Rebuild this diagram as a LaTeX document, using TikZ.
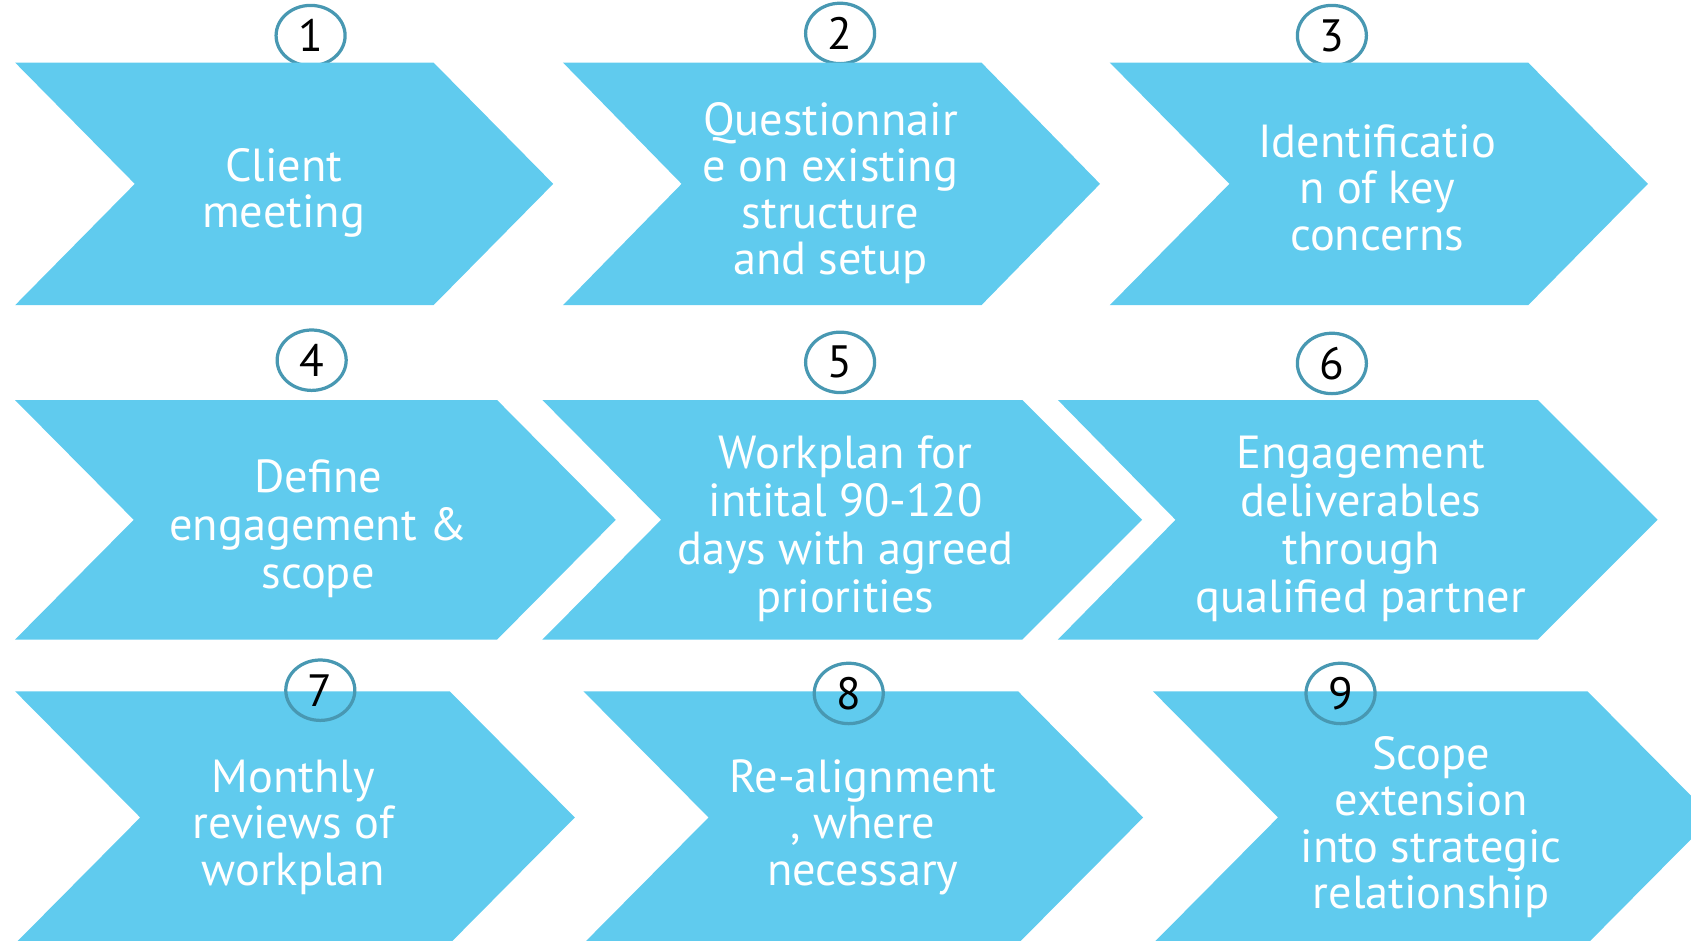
\documentclass[tikz,border=0pt]{standalone}
\usepackage{fontspec}
\setmainfont{PT Sans}
\usetikzlibrary{shapes.geometric}

\definecolor{chevblue}{RGB}{96,203,238}
\definecolor{ringblue}{RGB}{72,152,178}

\tikzset{
    chev/.style={fill=chevblue},
    lbl/.style={text=white, align=center, inner sep=0pt, font=\fontsize{43}{43}\selectfont},
    lblwide/.style={lbl, font=\fontsize{43}{44.5}\selectfont},
    num/.style={ellipse, draw=ringblue, line width=3pt, minimum width=64pt, minimum height=56pt, inner sep=0pt, font=\fontsize{42}{42}\selectfont}
}

\begin{document}
\begin{tikzpicture}[x=1pt, y=-1pt]
    \useasboundingbox (0,0) rectangle (1568,872);
    \clip (0,0) rectangle (1568,872);
    % numbers of the first row sit behind the chevrons
    \node[num] (n1) at (288,33) {1};
    \node[num] (n2) at (779,31) {2};
    \node[num] (n3) at (1235,33) {3};

    % row 1
    \fill[chev] (14,58) -- (402,58) -- (513,170.5) -- (402,283) -- (14,283) -- (125,170.5) -- cycle;
    \fill[chev] (522,58) -- (910,58) -- (1020,170.5) -- (910,283) -- (522,283) -- (632,170.5) -- cycle;
    \fill[chev] (1029,58) -- (1417,58) -- (1528,170.5) -- (1417,283) -- (1029,283) -- (1140,170.5) -- cycle;
    % row 2
    \fill[chev] (14,371) -- (461,371) -- (571,482) -- (461,593) -- (14,593) -- (124,482) -- cycle;
    \fill[chev] (503,371) -- (948,371) -- (1059,482) -- (948,593) -- (503,593) -- (613,482) -- cycle;
    \fill[chev] (981,371) -- (1426,371) -- (1537,482) -- (1426,593) -- (981,593) -- (1090,482) -- cycle;
    % row 3
    \fill[chev] (14,641) -- (417,641) -- (533,758) -- (417,875) -- (14,875) -- (130,758) -- cycle;
    \fill[chev] (541,641) -- (944,641) -- (1060,758) -- (944,875) -- (541,875) -- (657,758) -- cycle;
    \fill[chev] (1069,641) -- (1472,641) -- (1588,758) -- (1472,875) -- (1069,875) -- (1185,758) -- cycle;

    \node[lbl] (c1) at (263,179) {Client\\meeting};
    \node[lbl] (c2) at (770,179) {Questionnair\\e on existing\\structure\\and setup};
    \node[lbl] (c3) at (1277,174) {Identificatio\\n of key\\concerns};
    \node[lblwide] (c4) at (295,490) {Define\\engagement \&\\scope};
    \node[lblwide] (c5) at (784,490) {Workplan for\\intital 90-120\\days with agreed\\priorities};
    \node[lblwide] (c6) at (1262,490) {Engagement\\deliverables\\through\\qualified partner};
    \node[lbl] (c7) at (272,767) {Monthly\\reviews of\\workplan};
    \node[lbl] (c8) at (800,767) {Re-alignment\\, where\\necessary};
    \node[lbl] (c9) at (1327,767) {Scope\\extension\\into strategic\\relationship};

    \node[num] (n4) at (289,334) {4};
    \node[num] (n5) at (779,336) {5};
    \node[num] (n6) at (1235,337) {6};
    \node[num] (n7) at (297,640) {7};
    \node[num] (n8) at (787,643) {8};
    \node[num] (n9) at (1243,643) {9};
\end{tikzpicture}
\end{document}
